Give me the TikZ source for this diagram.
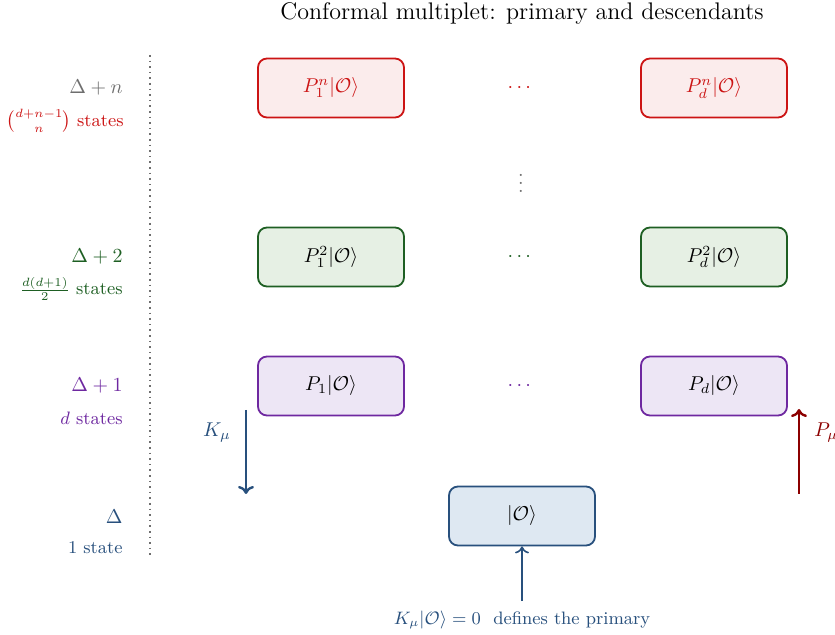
\documentclass[tikz,border=0pt]{standalone}
\usepackage{amsmath}
\usetikzlibrary{arrows.meta}
\definecolor{cred}{RGB}{204,20,20}
\definecolor{cgreen}{RGB}{30,95,35}
\definecolor{cpurple}{RGB}{110,40,160}
\definecolor{cblue}{RGB}{40,80,125}
\definecolor{cdarkred}{RGB}{140,0,0}
\definecolor{cgray}{RGB}{110,110,110}
\definecolor{fred}{RGB}{251,236,236}
\definecolor{fgreen}{RGB}{230,240,228}
\definecolor{fpurple}{RGB}{237,230,245}
\definecolor{fblue}{RGB}{222,232,242}
\begin{document}
\begin{tikzpicture}[x=0.5pt,y=-0.5pt,
  statebox/.style={draw, rounded corners=4.5pt, line width=0.9pt, minimum width=146*0.5pt, minimum height=59*0.5pt, inner sep=0pt},
  rowlab/.style={anchor=east, inner sep=0pt},
  countlab/.style={anchor=east, inner sep=0pt, font=\small},
  optarrow/.style={line width=1.2pt, -{To[length=4pt,width=8pt]}}]
\useasboundingbox (0,0) rectangle (835,635);
\node (title) at (522,14) {\large Conformal multiplet: primary and descendants};
\coordinate (ltop) at (150,55);
\coordinate (lbot) at (150,555);
\draw[cgray, dotted, line width=0.8pt] (ltop) -- (lbot);
% level n
\node[statebox, draw=cred, fill=fred, text=cred] (n1) at (331,88) {$P_1^n|\mathcal{O}\rangle$};
\node[statebox, draw=cred, fill=fred, text=cred] (nd) at (714,88) {$P_d^n|\mathcal{O}\rangle$};
\node[text=cred] (ndots) at (521,88) {$\cdots$};
\node[text=cgray] (vdots) at (521,177) {$\vdots$};
\node[rowlab, text=cgray] (ln) at (123,88) {$\Delta+n$};
\node[countlab, text=cred] (sn) at (124,121) {$\binom{d+n-1}{n}$ states};
% level 2
\node[statebox, draw=cgreen, fill=fgreen] (t1) at (331,257) {$P_1^2|\mathcal{O}\rangle$};
\node[statebox, draw=cgreen, fill=fgreen] (td) at (714,257) {$P_d^2|\mathcal{O}\rangle$};
\node[text=cgreen] (tdots) at (521,257) {$\cdots$};
\node[rowlab, text=cgreen] (l2) at (123,257) {$\Delta+2$};
\node[countlab, text=cgreen] (s2) at (123,289) {$\frac{d(d+1)}{2}$ states};
% level 1
\node[statebox, draw=cpurple, fill=fpurple] (o1) at (331,386) {$P_1|\mathcal{O}\rangle$};
\node[statebox, draw=cpurple, fill=fpurple] (od) at (714,386) {$P_d|\mathcal{O}\rangle$};
\node[text=cpurple] (odots) at (521,386) {$\cdots$};
\node[rowlab, text=cpurple] (l1) at (123,386) {$\Delta+1$};
\node[countlab, text=cpurple] (s1) at (123,418) {$d$ states};
% level 0
\node[statebox, draw=cblue, fill=fblue] (prim) at (522,516) {$|\mathcal{O}\rangle$};
\node[rowlab, text=cblue] (l0) at (123,517) {$\Delta$};
\node[countlab, text=cblue] (s0) at (123,548) {1 state};
% K arrow
\coordinate (ktop) at (246,410);
\coordinate (kbot) at (246,494);
\draw[optarrow, cblue] (ktop) -- (kbot);
\node[text=cblue] (klab) at (217,433) {$K_\mu$};
% P arrow
\coordinate (pbot) at (799,494);
\coordinate (ptop) at (799,409);
\draw[optarrow, cdarkred] (pbot) -- (ptop);
\node[text=cdarkred, anchor=west, inner sep=0pt] (plab) at (814,433) {$P_\mu$};
% primary condition
\node[text=cblue, font=\small] (cond) at (522,620) {$K_\mu|\mathcal{O}\rangle=0$\ \ defines the primary};
\coordinate (cbot) at (522,601);
\draw[cblue, line width=0.8pt, -{To[length=3.5pt,width=7pt]}] (cbot) -- (prim.south);
\end{tikzpicture}
\end{document}
